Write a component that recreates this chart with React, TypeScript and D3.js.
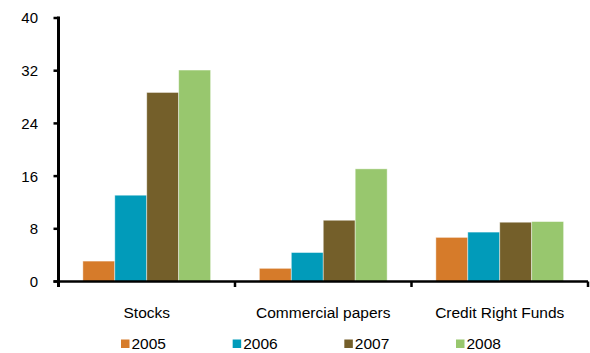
import React from "react";
import * as d3 from "d3";

const categories = ["Stocks", "Commercial papers", "Credit Right Funds"];
const years = ["2005", "2006", "2007", "2008"];
const values2005 = [3.1, 2.0, 6.7];
const values2006 = [13.1, 4.4, 7.5];
const values2007 = [28.7, 9.3, 9.0];
const values2008 = [32.1, 17.1, 9.1];
const yTicks = [0, 8, 16, 24, 32, 40];

const seriesValues = [values2005, values2006, values2007, values2008];
const colors = ["#D67B2A", "#019BBA", "#745F2A", "#98C76E"];

const W = 590;
const H = 353;
const left = 58.5;
const right = 588;
const top = 18;
const bottom = 281.5;
const font = "'Liberation Sans', Arial, sans-serif";

export default function App() {
  const x0 = d3.scaleBand<string>().domain(categories).range([left, right]).padding(0);
  const bw = x0.bandwidth();
  const gap = bw * 0.138;
  const x1 = d3.scaleBand<string>().domain(years).range([gap, bw - gap]).padding(0);
  const y = d3.scaleLinear().domain([0, 40]).range([bottom, top]);

  const legendX = d3.scalePoint<string>().domain(years).range([121, 456]);

  return (
    <svg width={W} height={H} style={{ position: "absolute", left: 0, top: 0, background: "#fff" }} fontFamily={font}>
      {/* bars */}
      {categories.map((c, ci) => (
        <g key={c} transform={`translate(${x0(c)},0)`}>
          {years.map((yr, si) => {
            const v = seriesValues[si][ci];
            return (
              <rect
                key={yr}
                x={x1(yr)}
                y={y(v)}
                width={x1.bandwidth()}
                height={y(0) - y(v)}
                fill={colors[si]}
                stroke="rgba(255,255,255,0.55)"
                strokeWidth={0.8}
              />
            );
          })}
        </g>
      ))}

      {/* y axis */}
      <line x1={left} x2={left} y1={top - 1.5} y2={bottom + 1.5} stroke="#000" strokeWidth={3} />
      {yTicks.map((t) => (
        <g key={t}>
          <line x1={left - 5} x2={left} y1={y(t)} y2={y(t)} stroke="#000" strokeWidth={2.5} />
          <text x={38} y={y(t)} dy="0.36em" textAnchor="end" fontSize={15} fill="#000">
            {t}
          </text>
        </g>
      ))}

      {/* x axis */}
      <line x1={left - 5} x2={right} y1={bottom} y2={bottom} stroke="#000" strokeWidth={2.5} />
      {categories.map((c) => (
        <line key={c} x1={x0(c)! + bw} x2={x0(c)! + bw} y1={bottom} y2={bottom + 5.5} stroke="#000" strokeWidth={2.5} />
      ))}
      <line x1={left} x2={left} y1={bottom} y2={bottom + 5.5} stroke="#000" strokeWidth={3} />
      {categories.map((c) => (
        <text key={c} x={x0(c)! + bw / 2} y={318} textAnchor="middle" fontSize={15.5} fill="#000">
          {c}
        </text>
      ))}

      {/* legend */}
      {years.map((yr, i) => (
        <g key={yr}>
          <rect x={legendX(yr)} y={339.5} width={8.5} height={8.5} fill={colors[i]} />
          <text x={legendX(yr)! + 10.5} y={348.5} fontSize={15.5} fill="#000">
            {yr}
          </text>
        </g>
      ))}
    </svg>
  );
}
